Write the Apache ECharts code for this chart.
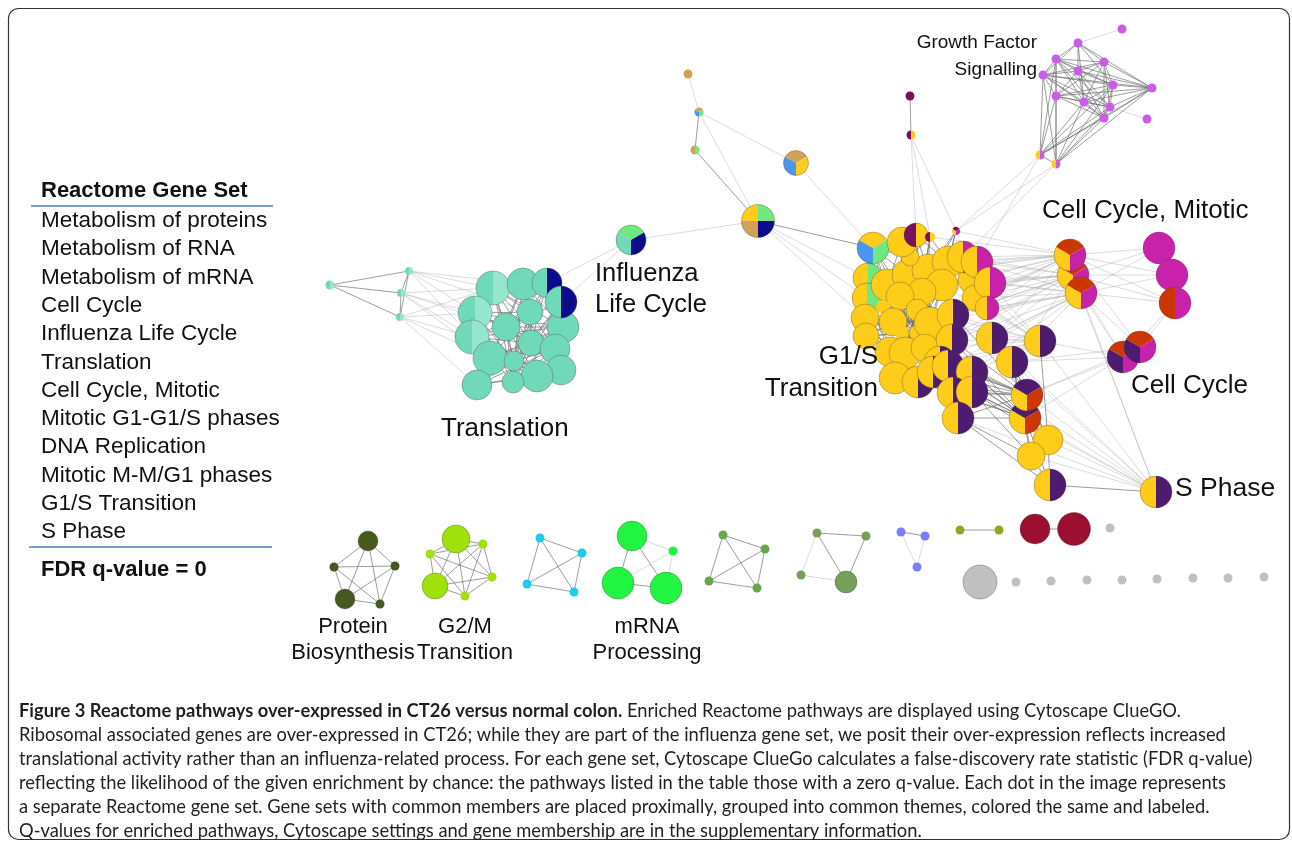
<!DOCTYPE html>
<html>
<head>
<meta charset="utf-8">
<script src="https://cdn.jsdelivr.net/npm/echarts@6.0.0/dist/echarts.min.js"></script>
<style>
  html, body { margin: 0; padding: 0; background: #fff; }
  #main { width: 1292px; height: 844px; }
</style>
</head>
<body>
<div id="main"></div>
<script>
// Цвета групп (буквенные коды секторов узлов)
let palette = {
  T: "#70d9b9", L: "#95e6cc", N: "#0b0b8c", G: "#6ee87f", B: "#4b96ef",
  P: "#d2a256", Y: "#fecd1a", U: "#4d1c70", C: "#c922aa", O: "#cc3700",
  M: "#7a0f5e", V: "#ca5ce9", D: "#465a1f", A: "#9fe10b", K: "#1ecbe8",
  E: "#20f542", F: "#68a84d", S: "#779f5c", W: "#7b7bfd", Q: "#8bab25",
  R: "#9b0f31", Z: "#c0c0c0",
};

// Узлы: [id, x, y, радиус, цвета секторов по часовой от низа]
let translationNodes = [
  ["t0", 330, 285, 4.5, "TL"], ["t1", 409, 271, 4, "TL"], ["t2", 401, 293, 4, "TL"],
  ["t3", 400, 317, 4, "TL"], ["t4", 493, 288, 17, "TL"], ["t5", 523, 284, 16, "T"],
  ["t6", 475, 313, 17, "TL"], ["t7", 472, 337, 17, "TL"], ["t10", 530, 312, 13, "T"],
  ["t11", 506, 327, 14, "T"], ["t12", 563, 327, 16, "T"], ["t13", 531, 343, 13, "T"],
  ["t14", 555, 349, 15, "T"], ["t15", 490, 358, 17, "T"], ["t16", 514, 361, 10, "T"],
  ["t17", 561, 370, 15, "T"], ["t18", 537, 376, 16, "T"], ["t19", 513, 382, 11, "T"],
  ["t20", 477, 385, 15, "T"], ["t8", 547, 283, 15, "TN"], ["t9", 561, 302, 16, "TN"],
];
let chainNodes = [
  ["u0", 688, 74, 4.5, "P"], ["u1", 699, 112, 4.5, "BPG"], ["u2", 695, 150, 4.5, "PG"],
  ["u3", 796, 163, 12.5, "BPY"], ["u4", 758, 221, 16.5, "PYGN"], ["fl", 631, 240, 15, "TGN"],
  ["m0", 910, 96, 4.5, "M"], ["m1", 911, 135, 4.5, "MY"],
];
let growthNodes = [
  ["gf0", 1122, 29, 4.5, "V"], ["gf1", 1078, 43, 4.5, "V"], ["gf2", 1056, 59, 4.5, "V"],
  ["gf3", 1104, 62, 4.5, "V"], ["gf4", 1078, 71, 4.5, "V"], ["gf5", 1043, 75, 4.5, "V"],
  ["gf6", 1113, 85, 4.5, "V"], ["gf7", 1152, 88, 4.5, "V"], ["gf8", 1056, 96, 4.5, "V"],
  ["gf9", 1084, 102, 4.5, "V"], ["gf10", 1110, 107, 4.5, "V"], ["gf11", 1104, 118, 4.5, "V"],
  ["gf12", 1147, 119, 4.5, "V"], ["gf13", 1040, 155, 4.5, "YV"], ["gf14", 1056, 164, 4.5, "YV"],
];
let g1sNodes = [
  ["s5", 868, 278, 15, "YG"], ["s6", 867, 298, 15, "YG"], ["s7", 865, 318, 14, "Y"],
  ["s8", 866, 336, 13, "Y"], ["s9", 887, 285, 16, "Y"], ["s10", 908, 275, 16, "Y"],
  ["s11", 928, 270, 16, "Y"], ["s12", 910, 257, 9, "Y"], ["s13", 948, 262, 16, "Y"],
  ["s14", 942, 285, 16, "Y"], ["s15", 922, 292, 14, "Y"], ["s16", 900, 296, 14, "Y"],
  ["s17", 883, 307, 7, "Y"], ["s18", 893, 322, 14, "Y"], ["s19", 917, 310, 11, "Y"],
  ["s20", 902, 333, 7, "Y"], ["s21", 917, 333, 8, "Y"], ["s22", 930, 323, 16, "Y"],
  ["s23", 890, 352, 15, "Y"], ["s24", 905, 353, 16, "Y"], ["s25", 925, 348, 14, "Y"],
  ["s26", 895, 378, 16, "Y"], ["s27", 972, 280, 14, "Y"], ["s28", 975, 298, 13, "Y"],
  ["s0", 873, 248, 16, "BYG"], ["s1", 902, 242, 15, "Y"], ["s2", 916, 235, 12, "MY"],
  ["s3", 930, 237, 5, "MY"], ["s4", 956, 231, 4, "YMC"],
  ["s29", 963, 257, 16, "YC"], ["s30", 977, 262, 16, "YC"], ["s31", 990, 283, 16, "YC"],
  ["s32", 987, 308, 12, "YC"], ["s33", 953, 315, 16, "YU"], ["s34", 952, 340, 16, "YU"],
  ["s35", 992, 338, 16, "YU"], ["s36", 1012, 362, 16, "YU"], ["s37", 940, 362, 16, "YU"],
  ["s38", 918, 382, 16, "YU"], ["s39", 933, 372, 16, "YU"], ["s40", 948, 366, 16, "YU"],
  ["s41", 972, 372, 16, "YU"], ["s42", 953, 393, 16, "YU"], ["s43", 972, 392, 16, "YU"],
  ["s44", 958, 418, 16, "YU"], ["s45", 1040, 341, 16, "YU"], ["s47", 1025, 418, 16, "YUO"],
  ["s46", 1027, 395, 16, "YUO"], ["s48", 1048, 440, 15, "Y"], ["s49", 1031, 456, 14, "Y"],
  ["s50", 1050, 485, 16, "YU"], ["sp", 1156, 492, 16, "YU"],
];
let cellCycleNodes = [
  ["cm1", 1073, 275, 16, "YOC"], ["cm0", 1070, 255, 16, "YOC"], ["cm2", 1081, 293, 16, "YOC"],
  ["cm3", 1159, 248, 16, "C"], ["cm4", 1172, 275, 16, "C"], ["cm5", 1175, 303, 16, "OC"],
  ["cc0", 1123, 357, 16, "UOC"], ["cc1", 1140, 347, 16, "UOC"],
];
let smallClusterNodes = [
  ["pb0", 368, 541, 10, "D"], ["pb1", 334, 567, 4.5, "D"], ["pb2", 395, 566, 4.5, "D"],
  ["pb3", 345, 599, 10, "D"], ["pb4", 380, 604, 4.5, "D"],
  ["a0", 456, 539, 14, "A"], ["a1", 483, 544, 4.5, "A"], ["a2", 430, 554, 4.5, "A"],
  ["a3", 492, 577, 4.5, "A"], ["a4", 435, 586, 13, "A"], ["a5", 465, 596, 4.5, "A"],
  ["k0", 540, 538, 4.5, "K"], ["k1", 582, 553, 4.5, "K"], ["k2", 527, 584, 4.5, "K"],
  ["k3", 574, 592, 4.5, "K"],
  ["e0", 632, 536, 15, "E"], ["e1", 673, 551, 4.5, "E"], ["e2", 618, 583, 16, "E"],
  ["e3", 666, 588, 16, "E"],
  ["f0", 723, 535, 4.5, "F"], ["f1", 765, 549, 4.5, "F"], ["f2", 709, 581, 4.5, "F"],
  ["f3", 757, 588, 4.5, "F"],
  ["h0", 817, 533, 4.5, "S"], ["h1", 866, 536, 4.5, "S"], ["h2", 801, 575, 4.5, "S"],
  ["h3", 846, 582, 11, "S"],
  ["w0", 901, 532, 4.5, "W"], ["w1", 925, 536, 4.5, "W"], ["w2", 917, 567, 4.5, "W"],
  ["q0", 960, 530, 4.5, "Q"], ["q1", 999, 530, 4.5, "Q"],
  ["r0", 1035, 529, 15, "R"], ["r1", 1074, 529, 16.5, "R"],
  ["z0", 1110, 528, 4.5, "Z"], ["z1", 980, 582, 17, "Z"], ["z2", 1016, 582, 4.5, "Z"],
  ["z3", 1051, 581, 4.5, "Z"], ["z4", 1087, 580, 4.5, "Z"], ["z5", 1122, 580, 4.5, "Z"],
  ["z6", 1157, 579, 4.5, "Z"], ["z7", 1193, 578, 4.5, "Z"], ["z8", 1228, 578, 4.5, "Z"],
  ["z9", 1264, 577, 4.5, "Z"],
];

// Связи: [узел, [соседи]]
let darkLinks = [
  ["t0", ["t1", "t2", "t3"]], ["t1", ["t2", "t3"]], ["t2", ["t3"]],
  ["t4", ["t5", "t6", "t10", "t11", "t13", "t16", "t12", "t7", "t19", "t14"]],
  ["t5", ["t8", "t10", "t11", "t13", "t12", "t9", "t16", "t15", "t19"]],
  ["t6", ["t10", "t11", "t13", "t16", "t15", "t19", "t7", "t14", "t12"]],
  ["t7", ["t11", "t13", "t16", "t19", "t15", "t18", "t10", "t12"]],
  ["t8", ["t10", "t12", "t13", "t11", "t16"]], ["t9", ["t11", "t13", "t16", "t14", "t19"]],
  ["t10", ["t11", "t13", "t16", "t14", "t18", "t19", "t15"]],
  ["t11", ["t12", "t13", "t14", "t16", "t18", "t19", "t15", "t17"]],
  ["t12", ["t13", "t16", "t18", "t19", "t15"]], ["t13", ["t15", "t16", "t19", "t20", "t17"]],
  ["t14", ["t16", "t19", "t15", "t20"]], ["t15", ["t18", "t17"]], ["t16", ["t17", "t18", "t20"]],
  ["t17", ["t19", "t20"]], ["t18", ["t20"]],
  ["u1", ["u2"]], ["u2", ["u4"]], ["u4", ["s0"]], ["m1", ["m0"]],
  ["gf1", ["gf2", "gf3", "gf4", "gf5", "gf6", "gf9", "gf7"]],
  ["gf2", ["gf3", "gf4", "gf5", "gf6", "gf8", "gf9", "gf10", "gf11", "gf13", "gf14", "gf7"]],
  ["gf3", ["gf4", "gf5", "gf6", "gf7", "gf8", "gf9", "gf10", "gf11"]],
  ["gf4", ["gf5", "gf6", "gf8", "gf9", "gf10", "gf11", "gf7"]],
  ["gf5", ["gf6", "gf8", "gf9", "gf10", "gf11", "gf13", "gf14", "gf7"]],
  ["gf6", ["gf8", "gf9", "gf10", "gf11", "gf7", "gf13", "gf14"]],
  ["gf7", ["gf8", "gf9", "gf11", "gf13", "gf14", "gf10"]],
  ["gf8", ["gf9", "gf10", "gf11", "gf13", "gf14"]], ["gf9", ["gf10", "gf11", "gf13", "gf14"]],
  ["gf10", ["gf11", "gf13", "gf14"]], ["gf11", ["gf13", "gf14"]], ["gf13", ["gf14"]],
  ["s0", ["s5", "s6", "s9", "s10", "s16", "s12", "s18", "s19"]],
  ["s1", ["s12", "s10", "s9", "s16", "s19", "s21", "s15"]],
  ["s2", ["s12", "s13", "s11", "s19", "s15"]],
  ["s3", ["s12", "s13", "s11", "s15", "s19"]], ["s4", ["s11", "s13", "s14", "s15"]],
  ["s5", ["s9", "s10", "s16", "s17", "s18", "s22", "s6", "s7", "s14", "s19", "s21"]],
  ["s6", ["s9", "s16", "s17", "s18", "s20", "s22", "s23", "s21", "s19", "s25"]],
  ["s7", ["s17", "s18", "s20", "s21", "s23", "s22", "s19", "s25", "s24"]],
  ["s8", ["s18", "s20", "s23", "s24", "s21", "s19", "s25", "s26"]],
  ["s9", ["s10", "s15", "s19", "s20", "s21", "s22", "s12", "s25", "s24"]],
  ["s10", ["s15", "s19", "s21", "s22", "s14", "s12", "s20", "s18", "s25"]],
  ["s11", ["s15", "s19", "s21", "s22", "s25", "s14", "s20", "s16"]],
  ["s12", ["s15", "s16", "s19", "s13", "s21"]], ["s13", ["s15", "s19", "s22", "s21", "s16"]],
  ["s14", ["s19", "s20", "s21", "s25", "s16", "s18"]], ["s15", ["s20", "s23", "s24", "s18"]],
  ["s16", ["s21", "s25", "s22", "s20"]], ["s17", ["s19", "s21", "s25", "s22"]],
  ["s18", ["s19", "s21", "s22", "s25"]], ["s19", ["s20", "s23", "s24", "s26"]],
  ["s20", ["s21", "s22", "s25", "s26"]], ["s21", ["s23", "s24", "s26", "s22"]],
  ["s22", ["s24", "s26", "s37"]], ["s23", ["s25", "s38"]], ["s24", ["s39"]],
  ["s33", ["s19", "s21", "s20", "s18", "s16", "s25"]], ["s34", ["s19", "s21", "s20", "s15", "s25"]],
  ["s37", ["s19", "s21", "s20", "s18"]], ["s40", ["s21", "s19", "s25"]],
  ["s46", ["s33", "s34", "s35", "s36", "s37", "s40", "s41", "s43", "s44", "s42", "s25", "s39", "s38"]],
  ["s47", ["s34", "s36", "s38", "s40", "s41", "s42", "s43", "s44", "s39", "s37"]],
  ["s48", ["s36", "s41", "s43", "s46", "s47", "s45"]], ["s49", ["s43", "s44", "s47", "s36"]],
  ["s50", ["s49", "s48", "s47", "s44", "sp"]],
  ["pb0", ["pb1", "pb2", "pb3", "pb4"]], ["pb1", ["pb2", "pb3", "pb4"]],
  ["pb2", ["pb3", "pb4"]], ["pb3", ["pb4"]],
  ["a0", ["a1", "a2", "a3", "a4", "a5"]], ["a1", ["a2", "a3", "a4", "a5"]],
  ["a2", ["a3", "a4", "a5"]], ["a3", ["a4", "a5"]], ["a4", ["a5"]],
  ["k0", ["k1", "k2", "k3"]], ["k1", ["k2", "k3"]], ["k2", ["k3"]],
  ["e0", ["e2", "e3"]], ["e2", ["e3"]],
  ["f0", ["f1", "f2", "f3"]], ["f1", ["f2", "f3"]], ["f2", ["f3"]],
  ["h0", ["h1", "h3"]], ["h1", ["h3"]], ["w0", ["w1"]],
  ["q0", ["q1"]], ["r0", ["r1"]],
];
let lightLinks = [
  ["t1", ["t4", "t5", "t6", "t7", "t10"]], ["t2", ["t4", "t6", "t7", "t11", "t15"]],
  ["t3", ["t4", "t6", "t7", "t15", "t20"]],
  ["fl", ["t8", "t9", "u4"]], ["u0", ["u1"]], ["u1", ["u3", "u4"]],
  ["u3", ["s0"]], ["u4", ["s5", "s6", "s7"]],
  ["m1", ["s2", "s3", "s4"]], ["gf0", ["gf1"]], ["gf10", ["gf12"]],
  ["gf13", ["s4", "s30"]], ["gf14", ["s4", "s29"]],
  ["cm0", ["s29", "s30", "s31", "s32", "s27", "s28", "s13", "s14", "s11", "s33", "s35", "s3", "s4", "s10", "s22"]],
  ["cm1", ["s29", "s30", "s31", "s32", "s27", "s28", "s33", "s34", "s35", "s22", "s14", "s15", "s25", "s36"]],
  ["cm2", ["s30", "s31", "s32", "s35", "s33", "s34", "s36", "s28", "s27", "s22", "s37", "s40", "s41"]],
  ["cm3", ["cm0", "cm1", "cm2", "cm4", "cm5"]], ["cm4", ["cm0", "cm1", "cm2", "cm5"]],
  ["cm5", ["cm0", "cm1", "cm2", "cc1", "cc0"]],
  ["cc0", ["cm2", "cm1", "s46", "s47", "s45", "s36"]], ["cc1", ["cm2", "cm0", "s46", "s36"]],
  ["sp", ["s45", "s46", "s47", "s48", "s49", "s36", "s35", "s41", "s43", "s44", "cm2", "cm1"]],
  ["s45", ["s27", "s28", "s31", "s32", "s33", "s34", "s35", "s36", "s22", "s25", "s14", "s19", "s37", "s40", "s41"]],
  ["e1", ["e0", "e2", "e3"]], ["h2", ["h0", "h3"]], ["w2", ["w0", "w1"]],
];

// Текст таблицы, подписей и подписи к рисунку
let tableTitle = "Reactome Gene Set";
let geneSets = [
  "Metabolism of proteins", "Metabolism of RNA", "Metabolism of mRNA", "Cell Cycle",
  "Influenza Life Cycle", "Translation", "Cell Cycle, Mitotic", "Mitotic G1-G1/S phases",
  "DNA Replication", "Mitotic M-M/G1 phases", "G1/S Transition", "S Phase",
];
let tableFooter = "FDR q-value = 0";
let captionBold = "Figure 3 Reactome pathways over-expressed in CT26 versus normal colon.";
let captionLines = [
  " Enriched Reactome pathways are displayed using Cytoscape ClueGO.",
  "Ribosomal associated genes are over-expressed in CT26; while they are part of the influenza gene set, we posit their over-expression reflects increased",
  "translational activity rather than an influenza-related process. For each gene set, Cytoscape ClueGo calculates a false-discovery rate statistic (FDR q-value)",
  "reflecting the likelihood of the given enrichment by chance: the pathways listed in the table those with a zero q-value. Each dot in the image represents",
  "a separate Reactome gene set. Gene sets with common members are placed proximally, grouped into common themes, colored the same and labeled.",
  "Q-values for enriched pathways, Cytoscape settings and gene membership are in the supplementary information.",
];

let allNodes = [
  ...translationNodes, ...chainNodes, ...growthNodes,
  ...g1sNodes, ...cellCycleNodes, ...smallClusterNodes,
];
let nodeById = {};
allNodes.forEach((n) => (nodeById[n[0]] = n));

let buildEdges = (links) => {
  let rows = [];
  links.forEach(([from, tos]) => {
    tos.forEach((to) => {
      let a = nodeById[from];
      let b = nodeById[to];
      rows.push([a[1], a[2], b[1], b[2]]);
    });
  });
  return rows;
};

// Подбор размера шрифта подписи под ширину строки
let captionFont = "Lato";
let ctx = document.createElement("canvas").getContext("2d");
ctx.font = "100px " + captionFont;
let captionSize = (100 * 1208) / ctx.measureText(captionLines[1]).width;

let edgeRender = (stroke, width) => (params, api) => {
  let p1 = api.coord([api.value(0), api.value(1)]);
  let p2 = api.coord([api.value(2), api.value(3)]);
  return {
    type: "line",
    shape: { x1: p1[0], y1: p1[1], x2: p2[0], y2: p2[1] },
    style: { stroke: stroke, lineWidth: width },
  };
};

let nodeRender = (params, api) => {
  let node = allNodes[api.value(3)];
  let c = api.coord([api.value(0), api.value(1)]);
  let r = Math.abs(api.size([api.value(2), 0])[0]);
  let keys = node[4].split("");
  let children = [];
  if (keys.length === 1) {
    children.push({
      type: "circle",
      shape: { cx: c[0], cy: c[1], r: r },
      style: { fill: palette[keys[0]] },
    });
  } else {
    let step = (Math.PI * 2) / keys.length;
    keys.forEach((k, j) => {
      children.push({
        type: "sector",
        shape: {
          cx: c[0], cy: c[1], r: r, r0: 0,
          startAngle: Math.PI / 2 + j * step,
          endAngle: Math.PI / 2 + (j + 1) * step,
          clockwise: true,
        },
        style: { fill: palette[k] },
      });
    });
  }
  if (r >= 8) {
    children.push({
      type: "circle",
      shape: { cx: c[0], cy: c[1], r: r },
      style: { fill: "none", stroke: "rgba(80,60,60,0.5)", lineWidth: 0.7 },
    });
  }
  return { type: "group", children: children };
};

let labelFont = "Liberation Sans";
let label = (text, x, y, size, align, lineHeight, weight) => ({
  type: "text",
  x: x,
  y: y,
  z: 100,
  style: {
    text: text,
    fontFamily: labelFont,
    fontSize: size,
    fontWeight: weight || "normal",
    fill: "#111",
    align: align,
    verticalAlign: "middle",
    lineHeight: lineHeight || size * 1.2,
  },
});

let graphics = [
  {
    type: "rect",
    shape: { x: 8.5, y: 8.5, width: 1281, height: 831, r: 10 },
    style: { fill: "none", stroke: "#333", lineWidth: 1.2 },
    z: 100,
  },
  // Таблица слева
  label(tableTitle, 41, 191, 22, "left", 0, "bold"),
  { type: "line", z: 100, shape: { x1: 31, y1: 206, x2: 273, y2: 206 }, style: { stroke: "#4a7ebb", lineWidth: 1.5 } },
  ...geneSets.map((s, i) => label(s, 41, 221 + i * 28.27, 22.5, "left")),
  { type: "line", z: 100, shape: { x1: 29, y1: 547, x2: 272, y2: 547 }, style: { stroke: "#4a7ebb", lineWidth: 1.5 } },
  label(tableFooter, 41, 570, 22, "left", 0, "bold"),
  // Подписи кластеров
  label("Growth Factor\nSignalling", 1037, 56, 19, "right", 27),
  label("Cell Cycle, Mitotic", 1042, 211, 26, "left"),
  label("Influenza\nLife Cycle", 595, 289, 25.5, "left", 31),
  label("Translation", 441, 429, 26, "left"),
  label("G1/S\nTransition", 878, 373, 26, "right", 32),
  label("Cell Cycle", 1131, 386, 26, "left"),
  label("S Phase", 1175, 489, 26.5, "left"),
  label("Protein\nBiosynthesis", 353, 640, 22, "center", 26),
  label("G2/M\nTransition", 465, 640, 22, "center", 26),
  label("mRNA\nProcessing", 647, 640, 22, "center", 26),
  // Подпись к рисунку
  {
    type: "text", x: 19, y: 711, z: 100,
    style: {
      text: "{b|" + captionBold + "}" + captionLines[0],
      fontFamily: captionFont, fontSize: captionSize, fill: "#231f20", verticalAlign: "middle",
      rich: { b: { fontFamily: captionFont, fontSize: captionSize, fontWeight: "bold", fill: "#231f20" } },
    },
  },
  ...captionLines.slice(1).map((line, i) => ({
    type: "text", x: 19, y: 735.5 + i * 24, z: 100,
    style: { text: line, fontFamily: captionFont, fontSize: captionSize, fill: "#231f20", verticalAlign: "middle" },
  })),
];

// Инициализация
let myChart = echarts.init(document.getElementById("main"));

myChart.setOption({
  animation: false,
  backgroundColor: "#fff",
  grid: { left: 0, right: 0, top: 0, bottom: 0 },
  xAxis: { type: "value", min: 0, max: 1292, show: false },
  yAxis: { type: "value", min: 0, max: 844, inverse: true, show: false },
  series: [
    {
      type: "custom",
      name: "light",
      data: buildEdges(lightLinks),
      encode: { x: [0, 2], y: [1, 3] },
      renderItem: edgeRender("rgba(160,160,160,0.55)", 0.7),
      silent: true,
      z: 1,
    },
    {
      type: "custom",
      name: "dark",
      data: buildEdges(darkLinks),
      encode: { x: [0, 2], y: [1, 3] },
      renderItem: edgeRender("rgba(110,110,110,0.85)", 0.8),
      silent: true,
      z: 2,
    },
    {
      type: "custom",
      name: "nodes",
      data: allNodes.map((n, i) => [n[1], n[2], n[3], i]),
      encode: { x: 0, y: 1 },
      renderItem: nodeRender,
      silent: true,
      z: 3,
    },
  ],
  graphic: graphics,
});

window.addEventListener("resize", function () {
  myChart.resize();
});
</script>
</body>
</html>
